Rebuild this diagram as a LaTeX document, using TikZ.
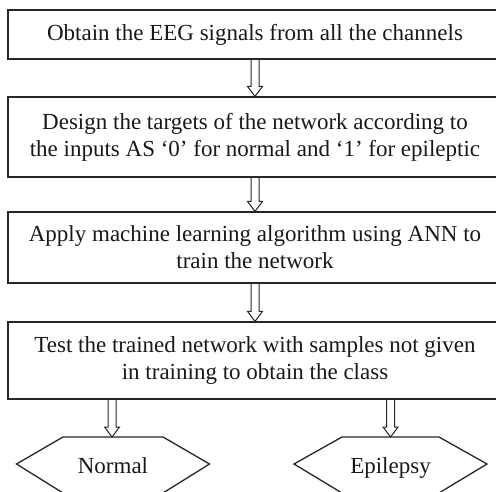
\documentclass[tikz,border=0pt]{standalone}
\usepackage{fontspec}
\setmainfont{Liberation Serif}
\usetikzlibrary{calc}
\tikzset{
  box/.style={draw=black!85, line width=1.3pt, minimum width=494pt, inner sep=0pt,
    align=center, font=\fontsize{23}{27}\selectfont, text=black!90},
  hexlabel/.style={inner sep=0pt, anchor=base, font=\fontsize{23}{27}\selectfont, text=black!90},
  hexline/.style={draw=black!85, line width=1.3pt, line join=miter},
  fatarrow/.style={draw=black!85, line width=1pt, line join=miter}
}
\newcommand{\fatarrowfromto}[2]{%
  \draw[fatarrow] let \p1=(#1), \p2=(#2) in
    (\x1-4pt,\y1) -- (\x1-4pt,\y2+10pt) -- (\x1-7.5pt,\y2+10pt) -- (\x1,\y2)
    -- (\x1+7.5pt,\y2+10pt) -- (\x1+4pt,\y2+10pt) -- (\x1+4pt,\y1);}
\newcommand{\hexaround}[3]{% centre, half width, top half width
  \draw[hexline] ($(#1)+(-#2pt,0)$) -- ($(#1)+(-#3pt,27pt)$)
    -- ($(#1)+(#3pt,27pt)$) -- ($(#1)+(#2pt,0)$)
    -- ($(#1)+(#3pt,-29pt)$) -- ($(#1)+(-#3pt,-29pt)$) -- cycle;}
\begin{document}
\begin{tikzpicture}[x=1pt,y=-1pt]
\useasboundingbox (0,0) rectangle (496,492);
\clip (0,0) rectangle (496,492);
\node[box, minimum height=49pt] (b1) at (255,34.5) {Obtain the EEG signals from all the channels};
\node[box, minimum height=80pt] (b2) at (255,137) {Design the targets of the network according to\\the inputs AS ‘0’ for normal and ‘1’ for epileptic};
\node[box, minimum height=71pt] (b3) at (255,247.5) {Apply machine learning algorithm using ANN to\\train the network};
\node[box, minimum height=77pt] (b4) at (255,360.5) {Test the trained network with samples not given\\in training to obtain the class};
\coordinate (nc) at (113,464);
\coordinate (ec) at (390.5,464);
\node[hexlabel] (normal) at ($(nc)+(0,9)$) {Normal};
\node[hexlabel] (epi) at ($(ec)+(0,9)$) {Epilepsy};
\hexaround{nc}{96.5}{50}
\hexaround{ec}{96.5}{48.5}
\coordinate (n1) at ($(nc)+(-1pt,27pt)$);
\coordinate (e1) at ($(ec)+(0,27pt)$);
\fatarrowfromto{b1.south}{b2.north}
\fatarrowfromto{b2.south}{b3.north}
\fatarrowfromto{b3.south}{b4.north}
\fatarrowfromto{b4.south -| n1}{n1}
\fatarrowfromto{b4.south -| e1}{e1}
\end{tikzpicture}
\end{document}
